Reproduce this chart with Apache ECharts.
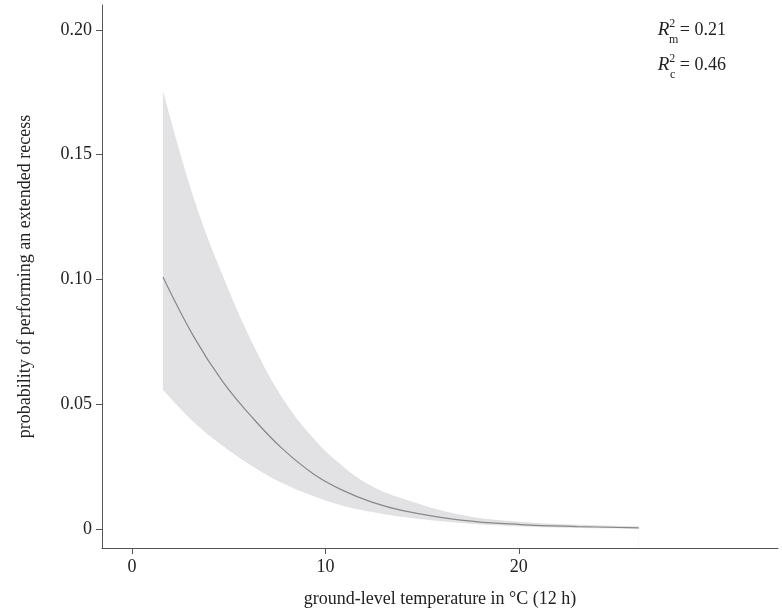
<!DOCTYPE html><html><head><meta charset="utf-8"><script src="https://cdn.jsdelivr.net/npm/echarts@6/dist/echarts.min.js"></script>
<style>html,body{margin:0;background:#fff}#c{width:782px;height:616px}</style></head><body><div id="c"></div><script>
const temps=[1.6,3.2,4.7,6.3,7.8,9.4,10.9,12.4,14,17,20.1,23,26.2];
const meanP=[0.101,0.077,0.059,0.044,0.032,0.022,0.0155,0.0108,0.0074,0.0036,0.0018,0.001,0.0005];
const upperP=[0.175,0.132,0.101,0.073,0.052,0.036,0.025,0.017,0.012,0.0055,0.0027,0.0016,0.0009];
const lowerP=[0.056,0.043,0.0335,0.025,0.0185,0.0133,0.0095,0.007,0.005,0.0026,0.0012,0.0006,0.0003];
const xTicks=[0,10,20], yTicks=[0,0.05,0.1,0.15,0.2];
const F='Liberation Serif';
const ch=echarts.init(document.getElementById('c'));
const txt={fontFamily:F,fontSize:18,color:'#222'};
ch.setOption({animation:false,
grid:{left:102,right:4,top:5,bottom:68},
xAxis:{type:'value',min:-1.55,max:33.4,
 axisLine:{onZero:false,lineStyle:{color:'#555'}},splitLine:{show:false},
 axisLabel:Object.assign({customValues:xTicks,formatter:v=>String(v),margin:10},txt),
 axisTick:{customValues:xTicks,length:6,lineStyle:{color:'#555'}},
 name:'ground-level temperature in °C (12 h)',nameLocation:'middle',nameGap:42,nameTextStyle:txt},
yAxis:{type:'value',min:-0.0076,max:0.21,
 axisLine:{show:true,onZero:false,lineStyle:{color:'#555'}},splitLine:{show:false},
 axisLabel:Object.assign({customValues:yTicks,formatter:v=>v===0?'0':v.toFixed(2),margin:10},txt),
 axisTick:{show:true,customValues:yTicks,length:6,lineStyle:{color:'#555'}},
 name:'probability of performing an extended recess',nameLocation:'middle',nameGap:68,nameTextStyle:txt},
series:[
 {type:'line',data:temps.map((t,i)=>[t,upperP[i]]),symbol:'none',smooth:0.4,lineStyle:{color:'#d4d4d6',width:0.5},areaStyle:{color:'#e2e2e4',opacity:1,origin:'start'},z:1},
 {type:'line',data:temps.map((t,i)=>[t,lowerP[i]]),symbol:'none',smooth:0.4,lineStyle:{color:'#d4d4d6',width:0.5},areaStyle:{color:'#fff',opacity:1,origin:'start'},z:2},
 {type:'line',data:temps.map((t,i)=>[t,meanP[i]]),symbol:'none',smooth:0.4,lineStyle:{color:'#888',width:1.2},z:3}
],
graphic:[
 {type:'text',right:56,top:18,style:{rich:{i:{fontFamily:F,fontSize:19,fontStyle:'italic',fill:'#222'},s:{fontFamily:F,fontSize:12,fill:'#222',padding:[0,0,12,0]},n:{fontFamily:F,fontSize:18,fill:'#222'}},text:'{i|R}{s|2}{n| = 0.21}'}},
 {type:'text',right:56,top:53,style:{rich:{i:{fontFamily:F,fontSize:19,fontStyle:'italic',fill:'#222'},s:{fontFamily:F,fontSize:12,fill:'#222',padding:[0,0,12,0]},n:{fontFamily:F,fontSize:18,fill:'#222'}},text:'{i|R}{s|2}{n| = 0.46}'}},
 {type:'text',left:669,top:34,style:{text:'m',fontFamily:F,fontSize:12,fill:'#222'}},
 {type:'text',left:670,top:69,style:{text:'c',fontFamily:F,fontSize:12,fill:'#222'}}
]});
</script></body></html>
